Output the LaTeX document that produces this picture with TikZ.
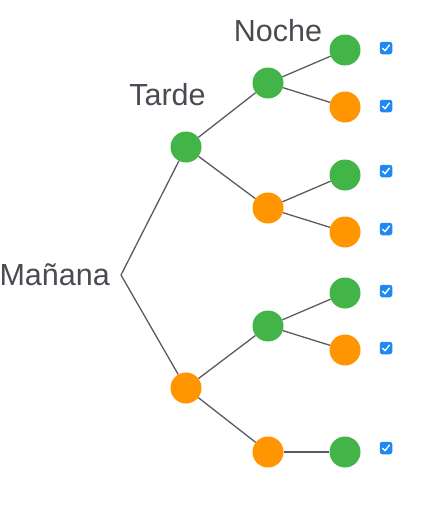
\documentclass[tikz,border=0pt]{standalone}
\usepackage{fontspec}
\setmainfont{Liberation Sans}
\definecolor{gr}{HTML}{43B548}
\definecolor{og}{HTML}{FF9500}
\definecolor{cb}{HTML}{1E88F5}
\definecolor{txt}{HTML}{4A4A52}
\definecolor{ln}{HTML}{5A5A60}
\begin{document}
\begin{tikzpicture}[x=1pt,y=-1pt,
  dot/.style={circle,minimum size=31pt,inner sep=0pt},
  g/.style={dot,fill=gr},
  o/.style={dot,fill=og},
  edge/.style={draw=ln,line width=1.3pt},
  lab/.style={text=txt,font=\fontsize{30.5}{32}\selectfont,inner sep=0pt},
  chk/.style={fill=cb,draw=none,rounded corners=2.5pt,minimum size=12.5pt,inner sep=0pt}]
\useasboundingbox (0,0) rectangle (428,509);
\coordinate (r) at (121,275);
\node[lab,anchor=east] (m) at (110,275) {Mañana};
\node[lab] (tl) at (167.5,95) {Tarde};
\node[lab] (nl) at (278,31) {Noche};
\node[g] (a) at (186,147) {};
\node[o] (b) at (186,388) {};
\node[g] (a1) at (268,83) {};
\node[o] (a2) at (268,208) {};
\node[g] (b1) at (268,326) {};
\node[o] (b2) at (268,452) {};
\node[g] (c1) at (345,50) {};
\node[o] (c2) at (345,107) {};
\node[g] (c3) at (345,175) {};
\node[o] (c4) at (345,232) {};
\node[g] (c5) at (345,293) {};
\node[o] (c6) at (345,350) {};
\node[g] (c7) at (345,452) {};
\draw[edge] (r) -- (a);
\draw[edge] (r) -- (b);
\draw[edge] (a) -- (a1);
\draw[edge] (a) -- (a2);
\draw[edge] (b) -- (b1);
\draw[edge] (b) -- (b2);
\draw[edge] (a1) -- (c1);
\draw[edge] (a1) -- (c2);
\draw[edge] (a2) -- (c3);
\draw[edge] (a2) -- (c4);
\draw[edge] (b1) -- (c5);
\draw[edge] (b1) -- (c6);
\draw[edge] (b2) -- (c7);
\foreach \n/\y in {k1/48,k2/106,k3/171,k4/229,k5/291,k6/348,k7/448}{
  \node[chk] (\n) at (386,\y) {};
  \draw[white,line width=1.4pt,line cap=round,line join=round]
    ([shift={(-3.3,0.3)}]\n.center) -- ([shift={(-0.9,2.7)}]\n.center) -- ([shift={(3.3,-2.8)}]\n.center);
}
\end{tikzpicture}
\end{document}
